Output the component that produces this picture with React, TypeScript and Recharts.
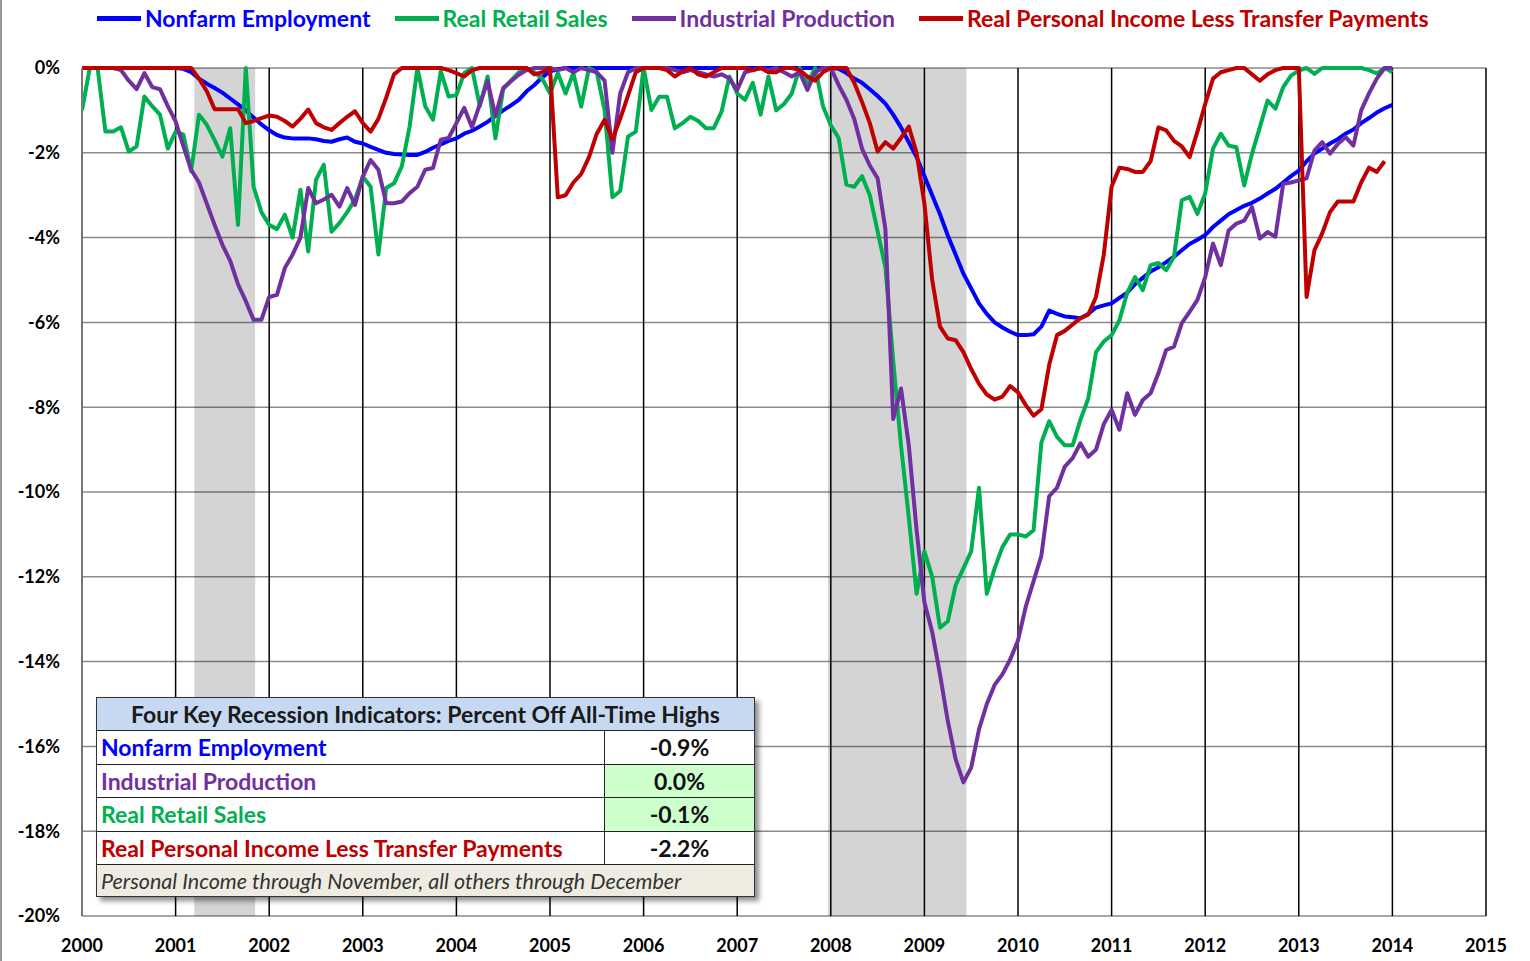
import React from 'react';
import { LineChart, Line, XAxis, YAxis, CartesianGrid, ReferenceArea } from 'recharts';

// monthly points from 2000.0 to 2014.0 (end of month positions), % off all-time high
const YEARS = [2000, 2001, 2002, 2003, 2004, 2005, 2006, 2007, 2008, 2009, 2010, 2011, 2012, 2013, 2014, 2015];
const Y_TICKS = [0, -2, -4, -6, -8, -10, -12, -14, -16, -18, -20];
const RECESSIONS = [[2001.2, 2001.85], [2007.97, 2009.45]];

const NONFARM = [
  0, 0, 0, 0, 0, 0, 0, 0, 0, 0, 0, 0,
  0, -0.02, -0.1, -0.25, -0.37, -0.47, -0.58, -0.72, -0.86, -1.0, -1.17, -1.33,
  -1.47, -1.58, -1.64, -1.66, -1.66, -1.66, -1.68, -1.72, -1.74, -1.68, -1.64, -1.74,
  -1.78, -1.86, -1.93, -2.0, -2.03, -2.04, -2.05, -2.05, -1.98, -1.88, -1.8, -1.72,
  -1.66, -1.55, -1.48, -1.38, -1.27, -1.13, -1.0, -0.88, -0.75, -0.55, -0.4, -0.22,
  -0.08, -0.03, 0, 0, 0, 0, 0, 0, 0, 0, 0, 0,
  0, 0, 0, 0, 0, 0, 0, 0, 0, 0, 0, 0,
  0, 0, 0, 0, 0, 0, 0, 0, 0, 0, 0, 0,
  0, -0.02, -0.12, -0.25, -0.35, -0.5, -0.66, -0.84, -1.1, -1.4, -1.75, -2.1,
  -2.55, -3.0, -3.45, -3.95, -4.4, -4.85, -5.2, -5.55, -5.8, -6.0, -6.12, -6.22,
  -6.3, -6.3, -6.28, -6.1, -5.72, -5.8, -5.86, -5.88, -5.9, -5.8, -5.65, -5.6,
  -5.55, -5.42, -5.3, -5.1, -4.95, -4.8, -4.7, -4.58, -4.45, -4.3, -4.15, -4.05,
  -3.94, -3.75, -3.6, -3.45, -3.35, -3.25, -3.18, -3.08, -2.96, -2.85, -2.7, -2.55,
  -2.42, -2.2, -2.02, -1.9, -1.78, -1.68, -1.55, -1.45, -1.3, -1.18, -1.05, -0.95,
  -0.87,
];

const RETAIL = [
  -1.0, 0, 0, -1.5, -1.5, -1.4, -1.97, -1.85, -0.67, -0.9, -1.1, -1.9,
  -1.5, -1.57, -2.44, -1.1, -1.34, -1.7, -2.09, -1.42, -3.7, 0, -2.8, -3.4,
  -3.7, -3.8, -3.46, -4.0, -2.87, -4.33, -2.64, -2.28, -3.86, -3.66, -3.4, -3.1,
  -2.56, -2.8, -4.4, -2.83, -2.72, -2.32, -1.38, 0, -0.9, -1.22, -0.08, -0.67,
  -0.64, -0.12, 0, -0.9, -0.2, -1.66, -0.5, -0.3, -0.1, 0, -0.1, -0.25,
  -0.6, -0.12, -0.6, -0.12, -0.91, 0, -0.1, -1.0, -3.05, -2.9, -1.62, -1.5,
  0, -0.99, -0.68, -0.68, -1.42, -1.3, -1.15, -1.25, -1.42, -1.42, -1.03, -0.2,
  -0.6, -0.75, -0.35, -1.1, -0.2, -1.0, -0.85, -0.6, 0, -0.35, 0, -0.9,
  -1.35, -1.65, -2.75, -2.8, -2.55, -3.0, -3.85, -4.7, -6.9, -8.9, -10.6, -12.4,
  -11.4, -12.0, -13.2, -13.05, -12.2, -11.8, -11.4, -9.9, -12.4, -11.8, -11.3, -11.0,
  -11.0, -11.05, -10.9, -8.83, -8.33, -8.7, -8.9, -8.9, -8.3, -7.8, -6.7, -6.45,
  -6.3, -5.95, -5.3, -4.93, -5.24, -4.65, -4.6, -4.77, -4.45, -3.12, -3.04, -3.44,
  -2.96, -1.9, -1.55, -1.83, -1.87, -2.77, -2.02, -1.4, -0.77, -0.96, -0.45, -0.18,
  -0.06, 0, -0.14, 0, 0, 0, 0, 0, 0, -0.05, -0.13, 0,
  -0.1,
];

const INDUSTRIAL = [
  0, 0, 0, 0, 0, -0.05, -0.3, -0.5, -0.12, -0.45, -0.5, -0.9,
  -1.26, -1.85, -2.4, -2.7, -3.2, -3.7, -4.17, -4.55, -5.1, -5.5, -5.94, -5.94,
  -5.4, -5.35, -4.72, -4.4, -4.0, -2.83, -3.19, -3.1, -2.99, -3.27, -2.83, -3.23,
  -2.56, -2.17, -2.4, -3.19, -3.19, -3.15, -2.95, -2.8, -2.4, -2.36, -1.69, -1.65,
  -1.3, -0.94, -1.4, -0.86, -0.31, -1.13, -0.47, -0.31, -0.16, -0.05, 0, 0,
  0, -0.05, 0, -0.1, 0, -0.05, -0.1, -0.3, -2.0, -0.6, -0.1, 0,
  0, 0, 0, 0, -0.05, -0.1, -0.05, -0.1, -0.15, -0.2, -0.15, -0.25,
  -0.52, -0.1, -0.05, 0, -0.05, 0, -0.1, -0.2, -0.1, -0.52, -0.1, 0,
  0, -0.4, -0.75, -1.2, -1.9, -2.3, -2.6, -3.8, -8.28, -7.56, -8.9, -10.9,
  -12.6, -13.3, -14.3, -15.4, -16.3, -16.85, -16.5, -15.6, -15.0, -14.55, -14.3, -13.95,
  -13.5, -12.7, -12.1, -11.5, -10.1, -9.9, -9.4, -9.2, -8.85, -9.17, -9.0, -8.4,
  -8.06, -8.53, -7.67, -8.18, -7.83, -7.67, -7.2, -6.65, -6.57, -6.02, -5.75, -5.47,
  -4.93, -4.14, -4.65, -3.83, -3.67, -3.6, -3.28, -4.02, -3.87, -3.98, -2.73, -2.7,
  -2.65, -2.6, -1.95, -1.75, -2.02, -1.79, -1.63, -1.83, -1.0, -0.6, -0.25, 0,
  0,
];

// personal income ends one month earlier (November 2013)
const INCOME = [
  0, 0, 0, 0, 0, 0, 0, 0, 0, 0, 0, 0,
  0, 0, 0, -0.25, -0.55, -0.97, -0.97, -0.97, -0.97, -1.3, -1.25, -1.18,
  -1.12, -1.15, -1.25, -1.38, -1.2, -0.98, -1.3, -1.4, -1.46, -1.3, -1.15, -1.02,
  -1.3, -1.5, -1.2, -0.7, -0.15, 0, 0, 0, 0, 0, 0, -0.05,
  -0.12, -0.2, -0.05, 0, 0, 0, 0, 0, 0, 0, -0.15, -0.1,
  0, -3.05, -3.0, -2.7, -2.5, -2.1, -1.55, -1.22, -1.68, -1.2, -0.65, -0.1,
  0, 0, 0, -0.05, -0.2, -0.08, 0, -0.15, -0.2, -0.1, 0, 0,
  0, 0, -0.05, 0, -0.1, -0.1, 0, 0, -0.05, -0.2, -0.3, -0.1,
  0, 0, 0, -0.35, -0.8, -1.3, -1.97, -1.75, -1.9, -1.65, -1.38, -2.0,
  -3.2, -5.0, -6.1, -6.38, -6.42, -6.7, -7.1, -7.45, -7.7, -7.82, -7.75, -7.5,
  -7.65, -7.95, -8.2, -8.05, -7.0, -6.3, -6.2, -6.05, -5.9, -5.82, -5.4, -4.4,
  -2.8, -2.35, -2.38, -2.45, -2.45, -2.2, -1.4, -1.47, -1.72, -1.85, -2.1, -1.5,
  -0.85, -0.25, -0.1, -0.05, 0, 0, -0.15, -0.3, -0.15, -0.05, 0, 0,
  0, -5.4, -4.3, -3.9, -3.4, -3.15, -3.15, -3.15, -2.7, -2.35, -2.45, -2.2,
];

const SERIES = [
  { key: 'nonfarm', name: 'Nonfarm Employment', color: '#0000ff', values: NONFARM },
  { key: 'retail', name: 'Real Retail Sales', color: '#00b050', values: RETAIL },
  { key: 'industrial', name: 'Industrial Production', color: '#7030a0', values: INDUSTRIAL },
  { key: 'income', name: 'Real Personal Income Less Transfer Payments', color: '#c00000', values: INCOME },
];

// table order differs from legend order
const TABLE_ORDER = ['nonfarm', 'industrial', 'retail', 'income'];
const TABLE_HIGHLIGHT = ['industrial', 'retail'];
const TABLE_TITLE = 'Four Key Recession Indicators: Percent Off All-Time Highs';
const TABLE_NOTE = 'Personal Income through November, all others through December';

const data = NONFARM.map((v, i) => ({
  t: 2000 + i / 12,
  nonfarm: v,
  retail: RETAIL[i],
  industrial: INDUSTRIAL[i],
  income: INCOME[i],
}));

const FONT = 'Lato, "Open Sans", sans-serif';
const tickStyle = { fontFamily: FONT, fontWeight: 700, fontSize: 18, fill: '#000' };

function Legend() {
  return (
    <div style={{ position: 'absolute', left: 95, top: 4, display: 'flex', alignItems: 'center', height: 28, fontFamily: FONT, fontWeight: 700, fontSize: 23, whiteSpace: 'nowrap' }}>
      {SERIES.map((s) => (
        <div key={s.key} style={{ display: 'flex', alignItems: 'center', marginRight: 24 }}>
          <div style={{ width: 44, height: 5, background: s.color, marginRight: 4 }} />
          <span style={{ color: s.color }}>{s.name}</span>
        </div>
      ))}
    </div>
  );
}

function SummaryTable() {
  const cell = { borderTop: '1px solid #222', height: 33.5, boxSizing: 'border-box' as const, display: 'flex', alignItems: 'center' };
  return (
    <div style={{ position: 'absolute', left: 94, top: 697, width: 657, border: '1.5px solid #333', background: '#fff', boxShadow: '4px 4px 5px rgba(0,0,0,0.45)', fontFamily: FONT, fontWeight: 700, fontSize: 23 }}>
      <div style={{ height: 32, background: '#c6d9f1', display: 'flex', alignItems: 'center', justifyContent: 'center', color: '#1a1a1a' }}>{TABLE_TITLE}</div>
      {TABLE_ORDER.map((k) => {
        const s = SERIES.find((x) => x.key === k)!;
        const last = s.values[s.values.length - 1];
        const hi = TABLE_HIGHLIGHT.includes(k);
        return (
          <div key={k} style={{ display: 'flex' }}>
            <div style={{ ...cell, width: 508, paddingLeft: 4, color: s.color, borderRight: '1px solid #222' }}>{s.name}</div>
            <div style={{ ...cell, flex: 1, justifyContent: 'center', background: hi ? '#ccffcc' : '#fff', color: '#111' }}>{last.toFixed(1)}%</div>
          </div>
        );
      })}
      <div style={{ ...cell, height: 32, background: '#eeece1', paddingLeft: 4, fontWeight: 400, fontStyle: 'italic', fontSize: 21.5, color: '#333' }}>{TABLE_NOTE}</div>
    </div>
  );
}

export default function App() {
  return (
    <div style={{ position: 'absolute', left: 0, top: 0, width: 1530, height: 961, background: '#fff', borderLeft: '2px solid #999', boxSizing: 'border-box' }}>
      <div style={{ position: 'absolute', left: -2, top: 0 }}>
        <LineChart width={1530} height={961} data={data} margin={{ top: 68, right: 44, bottom: 10, left: 0 }}>
          <CartesianGrid vertical={false} stroke="#8a8a8a" strokeWidth={1.5} />
          <CartesianGrid horizontal={false} stroke="#000" strokeWidth={1.5} />
          {RECESSIONS.map(([a, b]) => (
            <ReferenceArea key={a} x1={a} x2={b} y1={0} y2={-20} fill="#000" fillOpacity={0.17} stroke="none" />
          ))}
          <XAxis dataKey="t" type="number" domain={[2000, 2015]} ticks={YEARS} interval={0} allowDataOverflow
            axisLine={false} tickLine={false} tickSize={0} tickMargin={23} height={35} tick={tickStyle} />
          <YAxis type="number" domain={[-20, 0]} ticks={Y_TICKS} interval={0} tickFormatter={(v) => `${v}%`}
            width={82} axisLine={{ stroke: '#8a8a8a', strokeWidth: 1.5 }} tickLine={false} tickSize={0} tickMargin={22} tick={tickStyle} />
          {SERIES.map((s) => (
            <Line key={s.key} type="linear" dataKey={s.key} name={s.name} stroke={s.color} strokeWidth={4}
              dot={false} isAnimationActive={false} strokeLinejoin="round" />
          ))}
        </LineChart>
      </div>
      <Legend />
      <SummaryTable />
    </div>
  );
}
